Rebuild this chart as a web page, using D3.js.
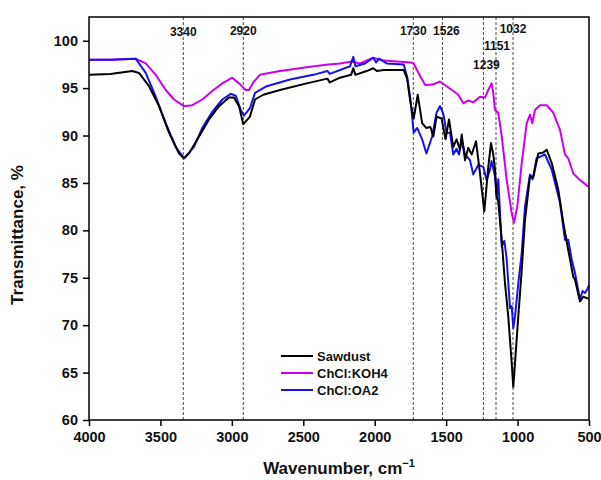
<!DOCTYPE html>
<html>
<head>
<meta charset="utf-8">
<script src="https://cdn.jsdelivr.net/npm/d3@7"></script>
<style>
  body { margin: 0; background: #fff; }
  text { font-family: Arial, "Liberation Sans", sans-serif; font-weight: bold; }
</style>
</head>
<body>
<svg id="chart" width="601" height="480"></svg>
<script>
// [wavenumber, transmittance]
const sawdust = [
  [4000,96.4],[3850,96.5],[3697,96.8],[3650,96.6],[3580,95.2],[3510,93.1],[3440,90.3],[3370,88.1],[3335,87.6],
  [3300,88.1],[3230,89.9],[3160,91.7],[3090,93.1],[3020,94.0],[2985,94.0],[2950,93.1],[2920,91.2],[2873,92.0],
  [2838,93.8],[2780,94.3],[2663,94.8],[2477,95.5],[2330,96.0],[2315,95.6],[2243,96.1],[2165,96.4],[2150,97.1],
  [2135,96.4],[2057,96.8],[2010,97.1],[1985,96.8],[1937,96.9],[1797,96.9],[1773,96.0],[1750,93.5],[1727,91.8],
  [1699,94.3],[1668,91.3],[1640,90.8],[1610,90.9],[1590,89.9],[1567,92.0],[1532,91.8],[1504,89.6],[1480,91.7],
  [1450,88.8],[1427,89.6],[1403,88.5],[1391,90.1],[1368,87.4],[1345,88.7],[1321,88.0],[1291,89.4],[1263,86.0],
  [1233,82.0],[1205,86.7],[1186,89.2],[1170,88.0],[1158,86.4],[1147,83.6],[1135,83.0],[1111,79.0],[1088,74.4],
  [1065,70.9],[1041,66.0],[1030,63.5],[1018,66.0],[995,70.9],[971,75.8],[948,81.1],[913,85.7],[890,85.6],
  [855,88.1],[820,88.2],[796,88.5],[761,87.1],[715,84.3],[680,80.8],[645,77.9],[610,75.1],[598,74.8],
  [563,72.5],[540,73.0],[505,72.8]
];
const chclKoh4 = [
  [4000,98.0],[3850,98.0],[3673,98.1],[3603,97.6],[3533,96.4],[3463,94.8],[3405,93.8],[3335,93.1],[3277,93.2],
  [3207,93.8],[3137,94.7],[3067,95.5],[2997,96.1],[2950,95.5],[2903,94.8],[2880,94.8],[2850,95.6],[2803,96.4],
  [2663,96.8],[2477,97.2],[2325,97.5],[2243,97.6],[2160,97.8],[2103,97.6],[2010,98.2],[1937,97.9],[1843,97.8],
  [1750,97.7],[1727,97.6],[1680,96.2],[1645,95.3],[1590,95.4],[1543,95.7],[1497,95.2],[1450,94.7],[1415,94.3],
  [1380,93.4],[1345,93.7],[1310,93.5],[1263,94.1],[1228,94.0],[1205,94.8],[1182,95.5],[1170,94.5],[1158,92.7],
  [1135,92.4],[1111,89.9],[1076,85.3],[1041,81.8],[1025,80.8],[1002,82.5],[971,87.1],[936,91.3],[913,92.2],
  [897,91.3],[878,92.7],[843,93.2],[796,93.2],[750,92.4],[703,90.6],[668,88.0],[645,87.6],[610,86.0],
  [563,85.3],[528,84.9],[505,84.6]
];
const chclOa2 = [
  [4000,98.0],[3850,98.0],[3673,98.1],[3603,96.6],[3533,94.1],[3463,91.3],[3393,88.8],[3335,87.6],[3265,88.8],
  [3207,90.8],[3137,92.5],[3067,93.8],[3008,94.4],[2973,94.2],[2938,92.7],[2915,92.1],[2873,92.9],[2838,94.5],
  [2756,95.2],[2593,95.9],[2430,96.4],[2330,96.8],[2315,96.5],[2173,97.3],[2150,98.3],[2135,97.3],[2068,97.6],
  [2010,98.2],[1990,97.7],[1970,98.1],[1916,97.6],[1797,97.5],[1773,96.2],[1750,93.8],[1727,90.3],[1703,90.8],
  [1668,89.6],[1638,88.1],[1598,89.9],[1567,92.4],[1543,93.1],[1520,92.3],[1497,90.3],[1473,90.3],[1450,88.0],
  [1427,88.6],[1410,88.0],[1391,89.6],[1368,88.0],[1333,87.4],[1310,85.9],[1275,86.9],[1240,86.7],[1217,85.3],
  [1193,86.4],[1182,87.3],[1158,85.7],[1147,83.6],[1135,85.4],[1111,78.3],[1092,78.9],[1076,76.9],[1053,71.8],
  [1041,72.0],[1030,69.7],[1018,70.9],[995,74.4],[971,77.6],[948,82.5],[913,85.9],[894,85.4],[867,87.6],
  [808,88.0],[761,86.4],[703,82.9],[668,79.0],[645,79.0],[621,76.9],[598,75.5],[563,72.7],[545,73.6],
  [528,73.4],[512,73.8],[500,74.2]
];
const seriesNames = ["Sawdust", "ChCl:KOH4", "ChCl:OA2"];
const seriesColors = ["#000000", "#cc00ee", "#1a10e8"];
const peaks = [3340, 2920, 1730, 1526, 1239, 1151, 1032];
const xTicks = [4000, 3500, 3000, 2500, 2000, 1500, 1000, 500];
const yTicks = [60, 65, 70, 75, 80, 85, 90, 95, 100];

const svg = d3.select("#chart");
const margin = {left: 89, top: 17, right: 12, bottom: 60};
const W = 601, H = 480;
const x = d3.scaleLinear().domain([4000, 500]).range([margin.left, W - margin.right]);
const y = d3.scaleLinear().domain([60, 102.5]).range([H - margin.bottom, margin.top]);

// peak guide lines
svg.append("g").selectAll("line").data(peaks).join("line")
  .attr("x1", d => x(d)).attr("x2", d => x(d))
  .attr("y1", y(102.5)).attr("y2", y(60))
  .attr("stroke", "#333").attr("stroke-width", 0.9).attr("stroke-dasharray", "3,2");

// curves
const line = d3.line().x(d => x(d[0])).y(d => y(d[1]));
const allSeries = [chclKoh4, chclOa2, sawdust];
const drawOrder = [1, 2, 0];
svg.append("g").selectAll("path").data(allSeries).join("path")
  .attr("d", line)
  .attr("fill", "none")
  .attr("stroke", (d, i) => seriesColors[drawOrder[i]])
  .attr("stroke-width", 2)
  .attr("stroke-linejoin", "round");

// peak labels
const peakLabelY = {3340: 32, 2920: 31, 1730: 31, 1526: 31, 1239: 65, 1151: 46, 1032: 29};
const peakLabelDx = {3340: 0, 2920: 0, 1730: 0, 1526: 4, 1239: 3, 1151: 1, 1032: 0};
svg.append("g").selectAll("text").data(peaks).join("text")
  .attr("x", d => x(d) + peakLabelDx[d])
  .attr("y", d => peakLabelY[d])
  .attr("text-anchor", "middle").attr("dominant-baseline", "central")
  .attr("font-size", 12).attr("fill", "#111")
  .text(d => d);

// axes
const xAxis = svg.append("g").attr("transform", `translate(0,${y(60)})`)
  .call(d3.axisBottom(x).tickValues(xTicks).tickSize(6).tickPadding(6).tickFormat(d3.format("d")));
const yAxis = svg.append("g").attr("transform", `translate(${margin.left},0)`)
  .call(d3.axisLeft(y).tickValues(yTicks).tickSize(6).tickPadding(5));
[xAxis, yAxis].forEach(a => {
  a.select(".domain").remove();
  a.selectAll("line").attr("stroke", "#000").attr("stroke-width", 1.5);
  a.selectAll("text").attr("font-size", 14.5).attr("fill", "#111")
    .style("font-family", "Arial, 'Liberation Sans', sans-serif").style("font-weight", "bold");
});

// frame
svg.append("rect")
  .attr("x", margin.left).attr("y", margin.top)
  .attr("width", W - margin.right - margin.left).attr("height", H - margin.bottom - margin.top)
  .attr("fill", "none").attr("stroke", "#000").attr("stroke-width", 1.5);

// axis titles
const xt = svg.append("text").attr("x", 339).attr("y", 474)
  .attr("text-anchor", "middle").attr("font-size", 17).attr("fill", "#111");
xt.append("tspan").text("Wavenumber, cm");
xt.append("tspan").attr("dy", -7).attr("font-size", 11).text("\u22121");

svg.append("text").attr("transform", "translate(23,235) rotate(-90)")
  .attr("text-anchor", "middle").attr("font-size", 17).attr("fill", "#111")
  .text("Transmittance, %");

// legend
const legend = svg.append("g");
const legendOrder = [0, 1, 2];
legendOrder.forEach((k, i) => {
  const ly = 356 + i * 17;
  legend.append("line").attr("x1", 281).attr("x2", 313).attr("y1", ly).attr("y2", ly)
    .attr("stroke", seriesColors[k]).attr("stroke-width", 2);
  legend.append("text").attr("x", 317).attr("y", ly).attr("dominant-baseline", "central")
    .attr("font-size", 13).attr("fill", "#111").text(seriesNames[k]);
});
</script>
</body>
</html>
